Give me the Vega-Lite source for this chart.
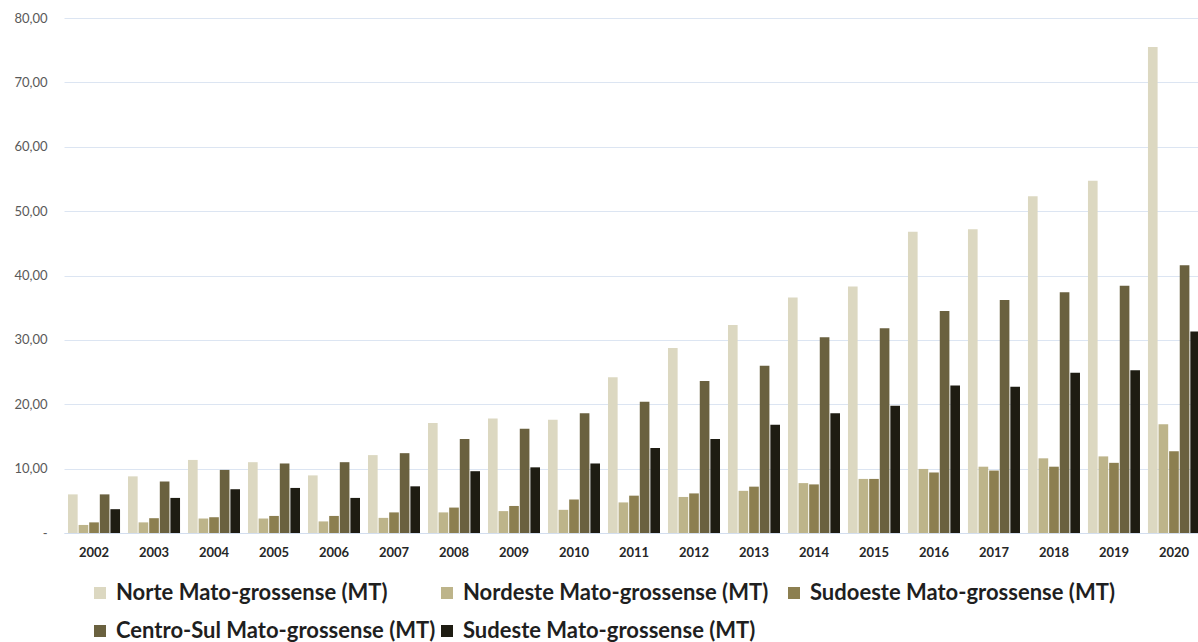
{
  "$schema": "https://vega.github.io/schema/vega-lite/v6.json",
  "autosize": {"type": "none"},
  "padding": {"left": 64, "top": 18, "right": 0, "bottom": 109},
  "width": 1134,
  "height": 515,
  "background": "#ffffff",
  "config": {"view": {"stroke": null}},
  "data": {
    "values": [
      {"year": "2002", "region": "Norte Mato-grossense (MT)", "value": 6.0},
      {"year": "2002", "region": "Nordeste Mato-grossense (MT)", "value": 1.25},
      {"year": "2002", "region": "Sudoeste Mato-grossense (MT)", "value": 1.65},
      {"year": "2002", "region": "Centro-Sul Mato-grossense (MT)", "value": 6.0},
      {"year": "2002", "region": "Sudeste Mato-grossense (MT)", "value": 3.7},
      {"year": "2003", "region": "Norte Mato-grossense (MT)", "value": 8.8},
      {"year": "2003", "region": "Nordeste Mato-grossense (MT)", "value": 1.65},
      {"year": "2003", "region": "Sudoeste Mato-grossense (MT)", "value": 2.3},
      {"year": "2003", "region": "Centro-Sul Mato-grossense (MT)", "value": 8.0},
      {"year": "2003", "region": "Sudeste Mato-grossense (MT)", "value": 5.45},
      {"year": "2004", "region": "Norte Mato-grossense (MT)", "value": 11.35},
      {"year": "2004", "region": "Nordeste Mato-grossense (MT)", "value": 2.25},
      {"year": "2004", "region": "Sudoeste Mato-grossense (MT)", "value": 2.45},
      {"year": "2004", "region": "Centro-Sul Mato-grossense (MT)", "value": 9.8},
      {"year": "2004", "region": "Sudeste Mato-grossense (MT)", "value": 6.8},
      {"year": "2005", "region": "Norte Mato-grossense (MT)", "value": 11.0},
      {"year": "2005", "region": "Nordeste Mato-grossense (MT)", "value": 2.25},
      {"year": "2005", "region": "Sudoeste Mato-grossense (MT)", "value": 2.65},
      {"year": "2005", "region": "Centro-Sul Mato-grossense (MT)", "value": 10.8},
      {"year": "2005", "region": "Sudeste Mato-grossense (MT)", "value": 7.0},
      {"year": "2006", "region": "Norte Mato-grossense (MT)", "value": 8.95},
      {"year": "2006", "region": "Nordeste Mato-grossense (MT)", "value": 1.8},
      {"year": "2006", "region": "Sudoeste Mato-grossense (MT)", "value": 2.65},
      {"year": "2006", "region": "Centro-Sul Mato-grossense (MT)", "value": 11.0},
      {"year": "2006", "region": "Sudeste Mato-grossense (MT)", "value": 5.45},
      {"year": "2007", "region": "Norte Mato-grossense (MT)", "value": 12.1},
      {"year": "2007", "region": "Nordeste Mato-grossense (MT)", "value": 2.35},
      {"year": "2007", "region": "Sudoeste Mato-grossense (MT)", "value": 3.2},
      {"year": "2007", "region": "Centro-Sul Mato-grossense (MT)", "value": 12.4},
      {"year": "2007", "region": "Sudeste Mato-grossense (MT)", "value": 7.25},
      {"year": "2008", "region": "Norte Mato-grossense (MT)", "value": 17.1},
      {"year": "2008", "region": "Nordeste Mato-grossense (MT)", "value": 3.2},
      {"year": "2008", "region": "Sudoeste Mato-grossense (MT)", "value": 3.95},
      {"year": "2008", "region": "Centro-Sul Mato-grossense (MT)", "value": 14.6},
      {"year": "2008", "region": "Sudeste Mato-grossense (MT)", "value": 9.6},
      {"year": "2009", "region": "Norte Mato-grossense (MT)", "value": 17.8},
      {"year": "2009", "region": "Nordeste Mato-grossense (MT)", "value": 3.4},
      {"year": "2009", "region": "Sudoeste Mato-grossense (MT)", "value": 4.2},
      {"year": "2009", "region": "Centro-Sul Mato-grossense (MT)", "value": 16.2},
      {"year": "2009", "region": "Sudeste Mato-grossense (MT)", "value": 10.2},
      {"year": "2010", "region": "Norte Mato-grossense (MT)", "value": 17.6},
      {"year": "2010", "region": "Nordeste Mato-grossense (MT)", "value": 3.6},
      {"year": "2010", "region": "Sudoeste Mato-grossense (MT)", "value": 5.2},
      {"year": "2010", "region": "Centro-Sul Mato-grossense (MT)", "value": 18.6},
      {"year": "2010", "region": "Sudeste Mato-grossense (MT)", "value": 10.8},
      {"year": "2011", "region": "Norte Mato-grossense (MT)", "value": 24.2},
      {"year": "2011", "region": "Nordeste Mato-grossense (MT)", "value": 4.75},
      {"year": "2011", "region": "Sudoeste Mato-grossense (MT)", "value": 5.8},
      {"year": "2011", "region": "Centro-Sul Mato-grossense (MT)", "value": 20.4},
      {"year": "2011", "region": "Sudeste Mato-grossense (MT)", "value": 13.2},
      {"year": "2012", "region": "Norte Mato-grossense (MT)", "value": 28.75},
      {"year": "2012", "region": "Nordeste Mato-grossense (MT)", "value": 5.6},
      {"year": "2012", "region": "Sudoeste Mato-grossense (MT)", "value": 6.15},
      {"year": "2012", "region": "Centro-Sul Mato-grossense (MT)", "value": 23.6},
      {"year": "2012", "region": "Sudeste Mato-grossense (MT)", "value": 14.6},
      {"year": "2013", "region": "Norte Mato-grossense (MT)", "value": 32.3},
      {"year": "2013", "region": "Nordeste Mato-grossense (MT)", "value": 6.55},
      {"year": "2013", "region": "Sudoeste Mato-grossense (MT)", "value": 7.2},
      {"year": "2013", "region": "Centro-Sul Mato-grossense (MT)", "value": 26.0},
      {"year": "2013", "region": "Sudeste Mato-grossense (MT)", "value": 16.8},
      {"year": "2014", "region": "Norte Mato-grossense (MT)", "value": 36.6},
      {"year": "2014", "region": "Nordeste Mato-grossense (MT)", "value": 7.75},
      {"year": "2014", "region": "Sudoeste Mato-grossense (MT)", "value": 7.55},
      {"year": "2014", "region": "Centro-Sul Mato-grossense (MT)", "value": 30.4},
      {"year": "2014", "region": "Sudeste Mato-grossense (MT)", "value": 18.6},
      {"year": "2015", "region": "Norte Mato-grossense (MT)", "value": 38.3},
      {"year": "2015", "region": "Nordeste Mato-grossense (MT)", "value": 8.4},
      {"year": "2015", "region": "Sudoeste Mato-grossense (MT)", "value": 8.4},
      {"year": "2015", "region": "Centro-Sul Mato-grossense (MT)", "value": 31.8},
      {"year": "2015", "region": "Sudeste Mato-grossense (MT)", "value": 19.75},
      {"year": "2016", "region": "Norte Mato-grossense (MT)", "value": 46.8},
      {"year": "2016", "region": "Nordeste Mato-grossense (MT)", "value": 9.95},
      {"year": "2016", "region": "Sudoeste Mato-grossense (MT)", "value": 9.4},
      {"year": "2016", "region": "Centro-Sul Mato-grossense (MT)", "value": 34.5},
      {"year": "2016", "region": "Sudeste Mato-grossense (MT)", "value": 22.9},
      {"year": "2017", "region": "Norte Mato-grossense (MT)", "value": 47.2},
      {"year": "2017", "region": "Nordeste Mato-grossense (MT)", "value": 10.3},
      {"year": "2017", "region": "Sudoeste Mato-grossense (MT)", "value": 9.7},
      {"year": "2017", "region": "Centro-Sul Mato-grossense (MT)", "value": 36.2},
      {"year": "2017", "region": "Sudeste Mato-grossense (MT)", "value": 22.7},
      {"year": "2018", "region": "Norte Mato-grossense (MT)", "value": 52.3},
      {"year": "2018", "region": "Nordeste Mato-grossense (MT)", "value": 11.6},
      {"year": "2018", "region": "Sudoeste Mato-grossense (MT)", "value": 10.3},
      {"year": "2018", "region": "Centro-Sul Mato-grossense (MT)", "value": 37.4},
      {"year": "2018", "region": "Sudeste Mato-grossense (MT)", "value": 24.9},
      {"year": "2019", "region": "Norte Mato-grossense (MT)", "value": 54.7},
      {"year": "2019", "region": "Nordeste Mato-grossense (MT)", "value": 11.9},
      {"year": "2019", "region": "Sudoeste Mato-grossense (MT)", "value": 10.9},
      {"year": "2019", "region": "Centro-Sul Mato-grossense (MT)", "value": 38.4},
      {"year": "2019", "region": "Sudeste Mato-grossense (MT)", "value": 25.3},
      {"year": "2020", "region": "Norte Mato-grossense (MT)", "value": 75.5},
      {"year": "2020", "region": "Nordeste Mato-grossense (MT)", "value": 16.9},
      {"year": "2020", "region": "Sudoeste Mato-grossense (MT)", "value": 12.7},
      {"year": "2020", "region": "Centro-Sul Mato-grossense (MT)", "value": 41.6},
      {"year": "2020", "region": "Sudeste Mato-grossense (MT)", "value": 31.3}
    ]
  },
  "mark": {"type": "bar", "clip": false},
  "encoding": {
    "x": {
      "field": "year",
      "type": "nominal",
      "sort": null,
      "scale": {"range": [0, 1140], "paddingInner": 0.133, "paddingOuter": 0.067},
      "axis": {
        "title": null,
        "labelAngle": 0,
        "ticks": false,
        "domainColor": "#D3DEEE",
        "domainWidth": 1,
        "labelPadding": 13,
        "labelFont": "Lato",
        "labelFontWeight": "bold",
        "labelFontSize": 13,
        "labelColor": "#262626"
      }
    },
    "xOffset": {
      "field": "region",
      "type": "nominal",
      "sort": [
        "Norte Mato-grossense (MT)",
        "Nordeste Mato-grossense (MT)",
        "Sudoeste Mato-grossense (MT)",
        "Centro-Sul Mato-grossense (MT)",
        "Sudeste Mato-grossense (MT)"
      ],
      "scale": {"paddingInner": 0.09, "paddingOuter": 0}
    },
    "y": {
      "field": "value",
      "type": "quantitative",
      "scale": {"domain": [0, 80], "nice": false},
      "axis": {
        "title": null,
        "values": [0, 10, 20, 30, 40, 50, 60, 70, 80],
        "labelExpr": "datum.value == 0 ? '-\u00a0\u00a0' : replace(format(datum.value, '.2f'), '.', ',')",
        "domain": false,
        "ticks": false,
        "labelPadding": 17,
        "labelFont": "Lato",
        "labelFontSize": 13,
        "labelColor": "#595959",
        "gridColor": "#DCE5F2",
        "gridWidth": 1
      }
    },
    "color": {
      "field": "region",
      "type": "nominal",
      "scale": {
        "domain": [
          "Norte Mato-grossense (MT)",
          "Nordeste Mato-grossense (MT)",
          "Sudoeste Mato-grossense (MT)",
          "Centro-Sul Mato-grossense (MT)",
          "Sudeste Mato-grossense (MT)"
        ],
        "range": ["#DCD8C1", "#BDB48A", "#8C7F50", "#6A613F", "#1E1C12"]
      },
      "legend": {
        "title": null,
        "orient": "none",
        "direction": "horizontal",
        "columns": 3,
        "gridAlign": "all",
        "legendX": 25,
        "legendY": 564,
        "padding": 0,
        "columnPadding": 0,
        "rowPadding": 16,
        "symbolType": "square",
        "symbolSize": 144,
        "symbolStrokeWidth": 0,
        "symbolOpacity": 1,
        "labelOffset": 5,
        "labelFont": "Lato",
        "labelFontWeight": "bold",
        "labelFontSize": 22,
        "labelColor": "#1F1F1F",
        "labelLimit": 0
      }
    }
  }
}
